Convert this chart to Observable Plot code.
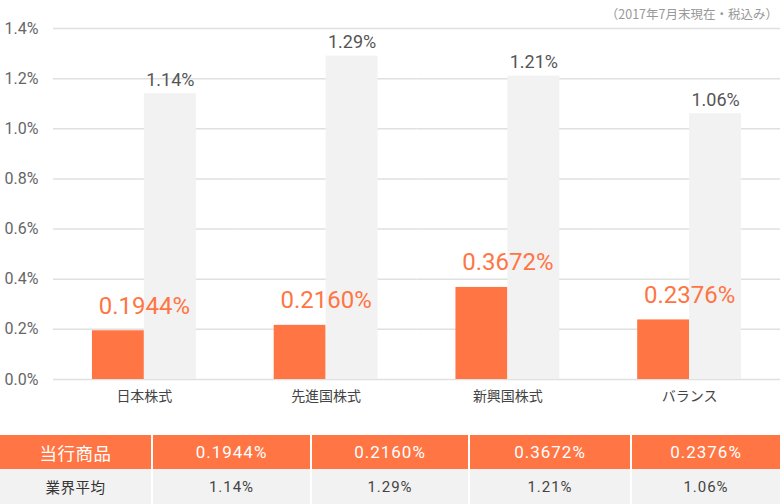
<!DOCTYPE html>
<html>
<head>
<meta charset="utf-8">
<script src="https://cdn.jsdelivr.net/npm/d3@7"></script>
<script src="https://cdn.jsdelivr.net/npm/@observablehq/plot@0.6"></script>
<style>
  body { margin: 0; background: #fff; font-family: Roboto, "Noto Sans CJK JP", sans-serif; }
  #wrap { width: 780px; }
  #sub { position: relative; z-index: 1; height: 18px; line-height: 28px; font-size: 12.5px; color: #999; text-align: right; padding-right: 2px; box-sizing: border-box; white-space: nowrap; font-family: "Noto Sans CJK JP", sans-serif; }
  table { border-collapse: collapse; margin-top: 13px; width: 780px; table-layout: fixed; }
  td { text-align: center; padding: 0; }
  tr.r1 td { background: #ff7544; color: #fff; font-size: 17px; height: 34px; letter-spacing: 1px; }
  tr.r1 td:first-child { font-size: 17.5px; letter-spacing: 0.5px; }
  tr.r2 td { background: #f2f2f2; color: #444; font-size: 15px; height: 35px; letter-spacing: 1px; }
  tr td + td { border-left: 2px solid #fff; }
  tr.r2 td:first-child { color: #333; font-size: 14.5px; letter-spacing: 0.5px; }
</style>
</head>
<body>
<div id="wrap">
  <div id="sub">（2017年7月末現在・税込み）</div>
  <div id="chart"></div>
  <div id="tbl"></div>
</div>
<script>
const categories = ["日本株式", "先進国株式", "新興国株式", "バランス"];
const seriesNames = ["当行商品", "業界平均"];
const ourFees = [0.1944, 0.2160, 0.3672, 0.2376];
const avgFees = [1.14, 1.29, 1.21, 1.06];
const yTicks = [0, 0.2, 0.4, 0.6, 0.8, 1.0, 1.2, 1.4];

const orange = "#ff7544";
const grayBar = "#f2f2f2";

const data = [];
categories.forEach((c, i) => {
  data.push({cat: c, series: seriesNames[0], value: ourFees[i]});
  data.push({cat: c, series: seriesNames[1], value: avgFees[i]});
});
const ours = data.filter(d => d.series === seriesNames[0]);
const avgs = data.filter(d => d.series === seriesNames[1]);

const chart = Plot.plot({
  width: 780,
  height: 404,
  marginTop: 10,
  marginLeft: 53,
  marginRight: 0,
  marginBottom: 43,
  style: {fontFamily: 'Roboto, "Noto Sans CJK JP", sans-serif', background: "transparent"},
  fx: {domain: categories, padding: 0, round: false, label: null},
  x: {domain: seriesNames, paddingInner: 0, paddingOuter: 0.75, round: false, axis: null},
  y: {domain: [0, 1.4], label: null},
  color: {domain: seriesNames, range: [orange, grayBar]},
  marks: [
    Plot.ruleY(yTicks, {stroke: "#e0e0e0", strokeWidth: 1.5}),
    Plot.axisY(yTicks, {tickFormat: d => d.toFixed(1) + "%", tickSize: 0, tickPadding: 15, fontSize: 16, fill: "#666", label: null, style: "letter-spacing:0.5px"}),
    Plot.axisFx({anchor: "bottom", tickSize: 0, tickPadding: 12, fontSize: 14, fill: "#444", label: null}),
    Plot.barY(data, {fx: "cat", x: "series", y: "value", fill: "series", insetLeft: 0, insetRight: 0}),
    Plot.text(avgs, {fx: "cat", x: "series", y: "value", text: d => d.value.toFixed(2) + "%", lineAnchor: "bottom", dy: -8, fill: "#555", fontSize: 18, style: "letter-spacing:1px"}),
    Plot.text(ours, {fx: "cat", x: () => seriesNames[1], y: "value", text: d => d.value.toFixed(4) + "%", lineAnchor: "bottom", dx: -26, dy: -17, fill: orange, fontSize: 24, style: "letter-spacing:0.8px"})
  ]
});
document.getElementById("chart").appendChild(chart);

// table
const tbl = document.createElement("table");
const widths = [152, 159, 158, 162, 149];
const cg = document.createElement("colgroup");
widths.forEach(w => { const c = document.createElement("col"); c.style.width = w + "px"; cg.appendChild(c); });
tbl.appendChild(cg);
const r1 = document.createElement("tr"); r1.className = "r1";
const r2 = document.createElement("tr"); r2.className = "r2";
[seriesNames[0], ...ourFees.map(v => v.toFixed(4) + "%")].forEach(s => { const td = document.createElement("td"); td.textContent = s; r1.appendChild(td); });
[seriesNames[1], ...avgFees.map(v => v.toFixed(2) + "%")].forEach(s => { const td = document.createElement("td"); td.textContent = s; r2.appendChild(td); });
tbl.appendChild(r1); tbl.appendChild(r2);
document.getElementById("tbl").appendChild(tbl);
</script>
</body>
</html>
